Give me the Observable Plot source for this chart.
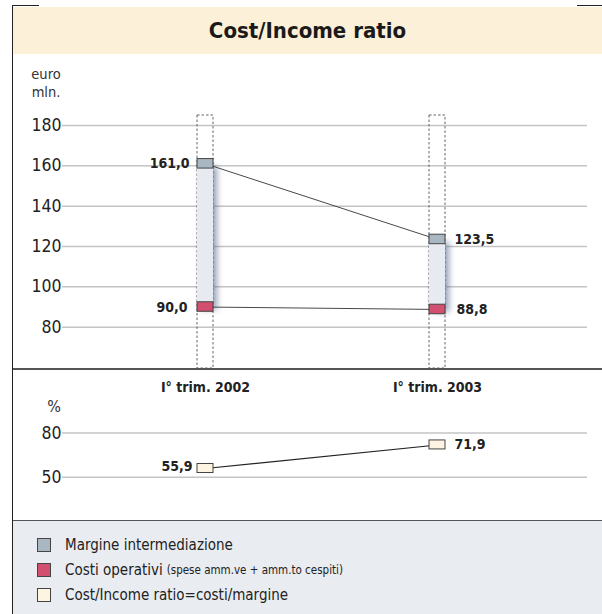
<!DOCTYPE html>
<html>
<head>
<meta charset="utf-8">
<script src="https://cdn.jsdelivr.net/npm/d3@7"></script>
<script src="https://cdn.jsdelivr.net/npm/@observablehq/plot@0.6"></script>
<style>
  html, body { margin: 0; padding: 0; background: #fff; }
  #wrap { position: relative; width: 602px; height: 614px; overflow: hidden; background: #fff;
          font-family: "Liberation Sans Narrow", "DejaVu Sans Condensed", "Roboto Condensed", "Liberation Sans", sans-serif; color: #222; }
  .abs { position: absolute; }
  #title { left: 13px; top: 7px; width: 589px; height: 47px; background: #fcf1d8;
           display: flex; align-items: center; justify-content: center;
           font-weight: bold; font-size: 22px; color: #1a1a1a; }
  .unit { font-size: 14.5px; color: #333; line-height: 18px; text-align: center; }
  #legend { left: 13px; top: 521px; width: 589px; height: 93px; background: #e9ecf1; }
  .lg { position: absolute; left: 24px; display: flex; align-items: center; font-size: 15px; color: #222; }
  .sw { width: 12px; height: 12px; border: 1px solid #444; margin-right: 14px; }
  .small { font-size: 11.5px; margin-left: 4px; }
  svg text { font-family: "Liberation Sans Narrow", "DejaVu Sans Condensed", "Roboto Condensed", "Liberation Sans", sans-serif; }
</style>
</head>
<body>
<div id="wrap">
  <div class="abs" style="left:12px;top:4.5px;width:27px;height:1.5px;background:#222"></div>
  <div class="abs" style="left:577px;top:4.5px;width:25px;height:1.5px;background:#222"></div>
  <div class="abs" style="left:11.5px;top:4.5px;width:1.5px;height:610px;background:#222"></div>
  <div id="title" class="abs">Cost/Income ratio</div>
  <div class="abs unit" style="left:28px;top:65px;width:36px">euro<br>mln.</div>
  <div id="topPanel" class="abs" style="left:13px;top:56px"></div>
  <div class="abs" style="left:13px;top:367.5px;width:589px;height:2px;background:#555"></div>
  <div id="bottomPanel" class="abs" style="left:13px;top:370px"></div>
  <div class="abs unit" style="left:42px;top:398px;width:24px;font-size:16px">%</div>
  <div class="abs" style="left:13px;top:519.5px;width:589px;height:2px;background:#555"></div>
  <div id="legend" class="abs"></div>
</div>
<script>
// ---- data ----
const categories = ["I° trim. 2002", "I° trim. 2003"];
const margine = [161.0, 123.5];   // Margine intermediazione (euro mln.)
const costi = [90.0, 88.8];       // Costi operativi (euro mln.)
const ratio = [55.9, 71.9];       // Cost/Income ratio (%)
const ticksEuro = [80, 100, 120, 140, 160, 180];
const ticksPct = [50, 80];
const legendItems = [
  {label: "Margine intermediazione", note: "", color: "#a9b7c2"},
  {label: "Costi operativi", note: "(spese amm.ve + amm.to cespiti)", color: "#d24f6f"},
  {label: "Cost/Income ratio=costi/margine", note: "", color: "#fdf5e1"}
];

const rows = categories.map((c, i) => ({cat: c, margine: margine[i], costi: costi[i], ratio: ratio[i]}));
const fmt = v => d3.format(".1f")(v).replace(".", ",");
const FONT = '"Liberation Sans Narrow", "DejaVu Sans Condensed", "Roboto Condensed", "Liberation Sans", sans-serif';

const xScale = {type: "band", domain: categories, range: [183, 432], paddingInner: 0.9313, paddingOuter: 0, align: 0.5, axis: null};

// ---- top panel ----
const topChart = Plot.plot({
  width: 589, height: 312,
  marginTop: 59, marginBottom: 0, marginLeft: 49, marginRight: 15,
  style: {fontFamily: FONT, background: "transparent", overflow: "visible"},
  x: xScale,
  y: {domain: [80, 180], range: [270.7, 69], axis: null},
  marks: [
    Plot.ruleY(ticksEuro, {stroke: "#c4c4c4", strokeWidth: 1.5}),
    Plot.text(ticksEuro, {y: d => d, frameAnchor: "left", textAnchor: "end", dx: -1, text: d => String(d), fontSize: 17.5, fill: "#222"}),
    Plot.cell(categories, {x: d => d, fill: "none", stroke: "#555", strokeWidth: 0.9, strokeDasharray: "2.5,2"}),
    Plot.barY(rows, {x: "cat", y1: "costi", y2: "margine", fill: "#e7ebf1"}),
    Plot.line(rows, {x: "cat", y: "margine", stroke: "#333", strokeWidth: 0.9}),
    Plot.line(rows, {x: "cat", y: "costi", stroke: "#333", strokeWidth: 0.9}),
    Plot.barY(rows, {x: "cat", y1: "margine", y2: "margine", insetTop: -4.75, insetBottom: -4.75, fill: "#a9b7c2", stroke: "#444", strokeWidth: 1}),
    Plot.barY(rows, {x: "cat", y1: "costi", y2: "costi", insetTop: -4.75, insetBottom: -4.75, fill: "#d24f6f", stroke: "#444", strokeWidth: 1}),
    Plot.text(rows, {filter: (d, i) => i === 0, x: "cat", y: "margine", text: d => fmt(d.margine), textAnchor: "end", dx: -16, fontSize: 14, fontWeight: "bold", fill: "#222"}),
    Plot.text(rows, {filter: (d, i) => i === 0, x: "cat", y: "costi", text: d => fmt(d.costi), textAnchor: "end", dx: -18, fontSize: 14, fontWeight: "bold", fill: "#222"}),
    Plot.text(rows, {filter: (d, i) => i === 1, x: "cat", y: "margine", text: d => fmt(d.margine), textAnchor: "start", dx: 17, fontSize: 14, fontWeight: "bold", fill: "#222"}),
    Plot.text(rows, {filter: (d, i) => i === 1, x: "cat", y: "costi", text: d => fmt(d.costi), textAnchor: "start", dx: 19, fontSize: 14, fontWeight: "bold", fill: "#222"})
  ]
});
document.getElementById("topPanel").appendChild(topChart);
try {
  const bars = topChart.querySelectorAll('g[aria-label="bar"]');
  if (bars.length) bars[0].style.filter = "drop-shadow(4px 3px 3px rgba(80,100,135,0.6))";
} catch (e) {}

// ---- bottom panel ----
const bottomChart = Plot.plot({
  width: 589, height: 150,
  marginTop: 0, marginBottom: 0, marginLeft: 49, marginRight: 15,
  style: {fontFamily: FONT, background: "transparent", overflow: "visible"},
  x: xScale,
  y: {domain: [50, 80], range: [106.7, 62.5], axis: null},
  marks: [
    Plot.ruleY(ticksPct, {stroke: "#c4c4c4", strokeWidth: 1.5}),
    Plot.text(ticksPct, {y: d => d, frameAnchor: "left", textAnchor: "end", dx: -1, text: d => String(d), fontSize: 17.5, fill: "#222"}),
    Plot.text(categories, {x: d => d, frameAnchor: "top", dy: 12, text: d => d, fontSize: 14, fontWeight: "bold", fill: "#222"}),
    Plot.line(rows, {x: "cat", y: "ratio", stroke: "#222", strokeWidth: 1.1}),
    Plot.barY(rows, {x: "cat", y1: "ratio", y2: "ratio", insetTop: -4.5, insetBottom: -4.5, fill: "#fdf5e1", stroke: "#444", strokeWidth: 1}),
    Plot.text(rows, {filter: (d, i) => i === 0, x: "cat", y: "ratio", text: d => fmt(d.ratio), textAnchor: "end", dx: -13, dy: -2, fontSize: 14, fontWeight: "bold", fill: "#222"}),
    Plot.text(rows, {filter: (d, i) => i === 1, x: "cat", y: "ratio", text: d => fmt(d.ratio), textAnchor: "start", dx: 17, fontSize: 14, fontWeight: "bold", fill: "#222"})
  ]
});
document.getElementById("bottomPanel").appendChild(bottomChart);

// ---- legend ----
const lg = document.getElementById("legend");
const lgTops = [15, 40, 65];
legendItems.forEach((it, i) => {
  const row = document.createElement("div");
  row.className = "lg";
  row.style.top = lgTops[i] + "px";
  const sw = document.createElement("div");
  sw.className = "sw";
  sw.style.background = it.color;
  row.appendChild(sw);
  const t = document.createElement("span");
  t.textContent = it.label;
  row.appendChild(t);
  if (it.note) {
    const n = document.createElement("span");
    n.className = "small";
    n.textContent = it.note;
    row.appendChild(n);
  }
  lg.appendChild(row);
});
</script>
</body>
</html>
